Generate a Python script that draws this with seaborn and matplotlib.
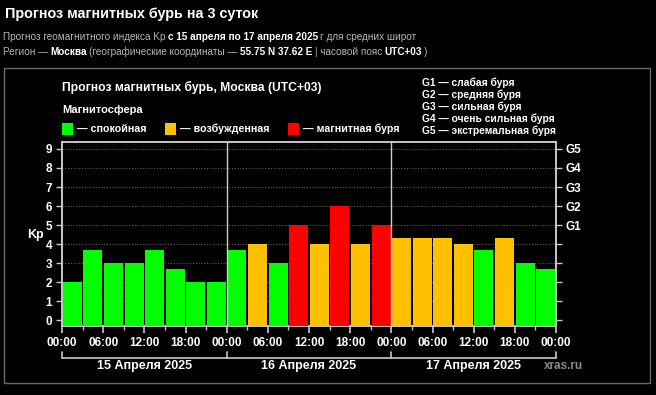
import matplotlib
matplotlib.use("Agg")
import matplotlib.pyplot as plt
import seaborn as sns
import pandas as pd
import numpy as np
from matplotlib.patches import Rectangle
from matplotlib.lines import Line2D

# ---------------- data ----------------
days = ["15 Апреля 2025", "16 Апреля 2025", "17 Апреля 2025"]
kp_day1 = [2.0, 3.67, 3.0, 3.0, 3.67, 2.67, 2.0, 2.0]
kp_day2 = [3.67, 4.0, 3.0, 5.0, 4.0, 6.0, 4.0, 5.0]
kp_day3 = [4.33, 4.33, 4.33, 4.0, 3.67, 4.33, 3.0, 2.67]
level_day1 = ["q", "q", "q", "q", "q", "q", "q", "q"]
level_day2 = ["q", "a", "q", "s", "a", "s", "a", "s"]
level_day3 = ["a", "a", "a", "a", "q", "a", "q", "q"]
hour_labels = ["00:00", "06:00", "12:00", "18:00"] * 3 + ["00:00"]
y_ticks = [0, 1, 2, 3, 4, 5, 6, 7, 8, 9]
g_labels = ["", "", "", "", "", "G1", "G2", "G3", "G4", "G5"]
g_legend = ["G1 — слабая буря", "G2 — средняя буря", "G3 — сильная буря",
            "G4 — очень сильная буря", "G5 — экстремальная буря"]
palette = {"q": "#00FF00", "a": "#FFC000", "s": "#FF0000"}
legend_items = [("q", "— спокойная"), ("a", "— возбужденная"), ("s", "— магнитная буря")]

kp = kp_day1 + kp_day2 + kp_day3
levels = level_day1 + level_day2 + level_day3
df = pd.DataFrame({"slot": list(range(len(kp))), "kp": kp, "level": levels})

# ---------------- figure ----------------
sns.set_theme(style="dark")
plt.rcParams["font.family"] = ["Liberation Sans", "DejaVu Sans"]
W, H = 656, 395
fig = plt.figure(figsize=(W / 100, H / 100), dpi=100, facecolor="black")

def fx(x):
    return x / W

def fy(y):
    return 1 - y / H

ax = fig.add_axes([fx(62), fy(326), (556 - 62) / W, (326 - 141.7) / H])
ax.set_facecolor("black")

YMIN, YMAX = -0.3, 9.38
sns.barplot(data=df, x="slot", y="kp", hue="level", palette=palette,
            dodge=False, width=0.92, legend=False, ax=ax, saturation=1,
            linewidth=0, zorder=3)
# bars extend down to the bottom of the axis
for p in ax.patches:
    top = p.get_y() + p.get_height()
    p.set_y(YMIN)
    p.set_height(top - YMIN)

ax.set_xlim(-0.5, len(kp) - 0.5)
ax.set_ylim(YMIN, YMAX)
ax.set_xlabel("")
ax.set_ylabel("")

# grid
ax.grid(False)
for yv in y_ticks[1:]:
    ax.axhline(yv, color="#5a5a5a", lw=0.8, ls=(0, (1, 1.5)), zorder=1)
for xv in [7.5, 15.5]:
    ax.axvline(xv, color="#cfcfcf", lw=1.0, zorder=4)

spine_c = "#c8c8c8"
for s in ax.spines.values():
    s.set_color(spine_c)
    s.set_linewidth(1.4)
    s.set_visible(True)

major_x = [-0.5 + 2 * k for k in range(len(hour_labels))]
minor_x = [0.5 + 2 * k for k in range(len(hour_labels) - 1)]
ax.set_xticks(major_x)
ax.set_xticklabels(hour_labels)
ax.set_xticks(minor_x, minor=True)
ax.set_yticks(y_ticks)
ax.set_yticklabels([str(v) for v in y_ticks])
ax.tick_params(axis="x", which="major", direction="out", length=5, width=1.2,
               color=spine_c, labelcolor="white", labelsize=8.5, pad=3, bottom=True)
ax.tick_params(axis="x", which="minor", direction="out", length=3, width=1.0,
               color=spine_c, bottom=True)
ax.tick_params(axis="y", direction="out", length=4, width=1.0, color=spine_c,
               labelcolor="white", labelsize=8.5, pad=3, left=True)
for lab in ax.get_xticklabels() + ax.get_yticklabels():
    lab.set_fontweight("bold")

ax2 = ax.twinx()
ax2.set_ylim(ax.get_ylim())
ax2.set_yticks(y_ticks)
ax2.set_yticklabels(g_labels)
ax2.tick_params(axis="y", direction="out", length=4, width=1.0, color=spine_c,
                labelcolor="white", labelsize=8.5, pad=3, right=True)
for lab in ax2.get_yticklabels():
    lab.set_fontweight("bold")
ax2.grid(False)
for s in ax2.spines.values():
    s.set_visible(False)

ax.text(-0.054, (4.5 - YMIN) / (YMAX - YMIN), "Kp", transform=ax.transAxes, color="white",
        fontsize=9, fontweight="bold", ha="center", va="center")

# day brackets
yb = (326 - 358) / (326 - 141.7)
yt = (326 - 352) / (326 - 141.7)
trans = ax.get_xaxis_transform()
ax.add_line(Line2D([-0.5, 23.5], [yb, yb], transform=trans, color=spine_c, lw=1.2, clip_on=False))
for xv in [-0.5, 7.5, 15.5, 23.5]:
    ax.add_line(Line2D([xv, xv], [yb, yt], transform=trans, color=spine_c, lw=1.2, clip_on=False))
yd = (326 - 365.5) / (326 - 141.7)
for i, d in enumerate(days):
    ax.text(3.5 + 8 * i, yd, d, transform=trans, color="white", fontsize=9,
            fontweight="bold", ha="center", va="center")
fig.text(fx(563), fy(366), "xras.ru", color="#8a8a8a", fontsize=8.5,
         fontweight="bold", ha="center", va="center")

# ---------------- header texts ----------------
fig.text(fx(5), fy(14), "Прогноз магнитных бурь на 3 суток", color="white",
         fontsize=10.4, fontweight="bold", ha="left", va="center")

renderer = fig.canvas.get_renderer()

def runs(x0, y, parts, size):
    x = x0
    for txt, bold in parts:
        t = fig.text(fx(x), fy(y), txt, color="white" if bold else "#b4b4b4",
                     fontsize=size, fontweight="bold" if bold else "normal",
                     ha="left", va="center")
        x += t.get_window_extent(renderer).width + 2.3

runs(3, 37, [("Прогноз геомагнитного индекса Kp", False),
             ("с 15 апреля по 17 апреля 2025", True),
             ("г для средних широт", False)], 7.2)
runs(3, 52, [("Регион —", False), ("Москва", True),
             ("(географические координаты —", False),
             ("55.75 N 37.62 E", True), ("| часовой пояс", False),
             ("UTC+03", True), (")", False)], 7.2)

fig.add_artist(Rectangle((fx(4), fy(383)), fx(650) - fx(4), fy(68) - fy(383),
                         transform=fig.transFigure, fill=False,
                         edgecolor="#6a6a6a", lw=1.0))

fig.text(fx(62), fy(87), "Прогноз магнитных бурь, Москва (UTC+03)", color="white",
         fontsize=8.7, fontweight="bold", ha="left", va="center")
fig.text(fx(62), fy(110), "Магнитосфера", color="white",
         fontsize=8, fontweight="bold", ha="left", va="center")

sq_x = [62, 165, 288]
for (key, lab), x0 in zip(legend_items, sq_x):
    fig.add_artist(Rectangle((fx(x0), fy(135)), 11 / W, 12 / H,
                             transform=fig.transFigure, facecolor=palette[key],
                             edgecolor="none"))
    fig.text(fx(x0 + 15), fy(129), lab, color="white", fontsize=7.7,
             fontweight="bold", ha="left", va="center")

g_y = [83, 95, 107, 119, 131]
for yv, lab in zip(g_y, g_legend):
    fig.text(fx(422), fy(yv), lab, color="white", fontsize=7.4,
             fontweight="bold", ha="left", va="center")

fig.savefig("out.png", dpi=100, facecolor="black")
